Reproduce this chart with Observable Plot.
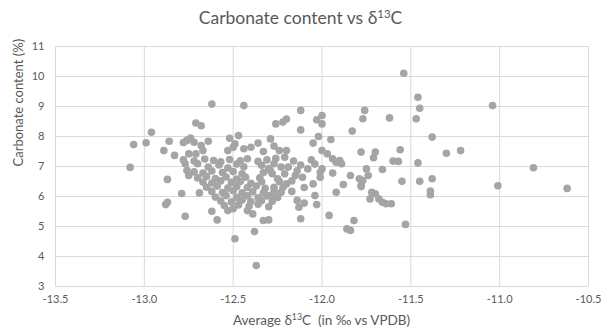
<!DOCTYPE html>
<html>
<head>
<meta charset="utf-8">
<script src="https://cdn.jsdelivr.net/npm/d3@7"></script>
<script src="https://cdn.jsdelivr.net/npm/@observablehq/plot@0.6"></script>
<style>
  body { margin: 0; background: #fff; font-family: "Lato", "Open Sans", sans-serif; color: #595959; }
  #title { width: 601px; height: 36px; line-height: 36px; text-align: center; font-size: 17.5px; }
  #xlabel { width: 601px; box-sizing: border-box; padding-left: 55px; padding-right: 13px; height: 20px; line-height: 20px; text-align: center; font-size: 13.5px; }
  sup { font-size: 0.65em; vertical-align: 0.55em; line-height: 0; }
</style>
</head>
<body>
<div id="title">Carbonate content vs δ<sup>13</sup>C</div>
<div id="chart"></div>
<div id="xlabel">Average δ<sup>13</sup>C&nbsp; (in ‰ vs VPDB)</div>
<script>
const xTicks = [-13.5, -13.0, -12.5, -12.0, -11.5, -11.0, -10.5];
const yTicks = [3, 4, 5, 6, 7, 8, 9, 10, 11];
const yTitle = ["Carbonate content (%)"];

// Average δ13C (‰ vs VPDB)
const d13C = [
  -13.08,-13.06,-12.99,-12.96,-12.86,-12.89,-12.83,-12.87,-12.88,-12.87,-12.79,-12.77,-12.69,-12.71,-12.68,
  -12.78,-12.76,-12.74,-12.72,-12.75,-12.71,-12.77,-12.76,-12.75,-12.70,-12.62,-12.44,-12.64,-12.68,-12.52,
  -12.47,-12.49,-12.29,-12.27,-12.67,-12.53,-12.50,-12.44,-12.40,-12.36,-12.33,-12.62,-12.59,-12.50,-12.33,
  -12.30,-12.38,-12.49,-12.37,
  -12.26,-12.22,-12.20,-12.12,-12.00,-12.03,-12.00,-12.12,-11.83,-11.95,-12.02,-12.05,-11.76,-11.77,-12.24,
  -12.20,-12.21,-12.00,-11.97,-11.94,-11.90,-11.89,-11.78,-12.08,-12.00,
  -11.54,-11.46,-11.45,-11.47,-11.62,-11.38,-11.30,-11.22,-11.70,-11.71,-11.56,-11.60,-11.57,-11.46,-11.75,
  -11.66,-11.55,-11.45,-11.38,-11.39,-11.39,-11.53,-11.74,-11.77,-11.78,-11.72,-11.70,-11.68,-11.66,-11.64,
  -11.61,-11.04,-10.81,-11.01,-10.62,
  -12.12,-11.96,-11.82,-11.86,-11.84,-12.04,-12.03,-12.10,-12.13,-12.14,-11.92,-11.94,-11.88,-11.84,-11.79,
  -11.78,-11.73,-12.01,-12.01,-11.92,-12.11,-12.15,
  -12.27,-12.23,-12.28,-12.25,-12.21,-12.20,-12.27,-12.23,-12.29,-12.19,
  -12.16,-12.12,-12.06,-12.17,-12.10,-12.17,-12.05,-12.14,-12.04,
  -12.78,-12.72,-12.66,-12.61,-12.57,-12.52,-12.46,-12.42,-12.36,-12.31,-12.26,
  -12.64,-12.58,-12.53,-12.48,-12.44,-12.34,-12.30,
  -12.72,-12.67,-12.62,-12.56,-12.50,-12.45,-12.33,-12.29,
  -12.70,-12.65,-12.60,-12.54,-12.48,-12.43,-12.35,
  -12.67,-12.62,-12.57,-12.51,-12.46,-12.40,-12.34,-12.24,
  -12.65,-12.59,-12.53,-12.48,-12.42,-12.37,-12.32,-12.22,
  -12.62,-12.56,-12.50,-12.45,-12.39,-12.33,-12.27,
  -12.60,-12.54,-12.48,-12.42,-12.36,-12.31,-12.25,
  -12.57,-12.51,-12.45,-12.40,-12.34,-12.28,
  -12.55,-12.47,-12.41,-12.36,-12.30,
  -12.53,-12.42,-12.39
];

// Carbonate content (%)
const carbonate = [
  6.97,7.73,7.79,8.14,7.84,7.53,7.37,6.57,5.73,5.81,6.10,5.34,6.12,8.45,8.36,
  7.80,7.87,7.95,7.81,7.42,7.42,7.09,6.87,6.70,7.09,9.08,9.03,7.84,7.70,7.94,
  8.03,7.76,7.92,7.68,7.53,7.53,7.64,7.59,7.64,7.78,7.50,5.51,5.22,5.59,5.20,
  5.22,4.83,4.59,3.70,
  8.42,8.48,8.58,8.87,8.70,8.56,8.42,8.22,8.18,7.90,8.00,7.78,8.87,8.59,7.53,
  7.53,7.31,7.53,7.42,7.26,7.20,7.09,7.48,6.92,6.92,
  10.11,9.31,8.94,8.59,8.62,7.98,7.44,7.53,7.48,7.29,7.56,7.18,7.17,7.12,6.92,
  6.90,6.51,6.51,6.59,6.18,6.06,5.07,6.70,6.53,6.37,6.14,6.09,5.92,5.81,5.76,
  5.76,9.03,6.96,6.36,6.27,
  5.26,5.37,5.20,4.92,4.87,6.03,5.73,5.78,5.64,5.87,6.14,6.78,6.40,6.70,6.59,
  6.33,5.92,6.81,6.64,7.14,6.64,6.70,
  7.09,6.98,6.76,6.59,6.76,6.42,6.31,6.14,6.03,6.98,
  7.18,7.05,7.22,6.52,6.30,6.17,6.42,6.86,7.08,
  7.22,7.18,7.25,7.20,7.16,7.23,7.19,7.26,7.17,7.22,7.27,
  6.98,7.05,6.95,7.08,6.99,7.04,6.93,
  6.82,6.78,6.85,6.80,6.83,6.76,6.80,6.86,
  6.62,6.67,6.60,6.65,6.58,6.64,6.62,
  6.48,6.45,6.52,6.47,6.50,6.44,6.49,6.50,
  6.31,6.35,6.28,6.33,6.30,6.35,6.27,6.30,
  6.17,6.13,6.19,6.12,6.16,6.12,6.18,
  5.98,6.03,5.97,6.02,5.96,6.02,5.97,
  5.85,5.82,5.88,5.83,5.86,5.84,
  5.70,5.72,5.68,5.74,5.66,
  5.53,5.53,5.42
];

const data = d13C.map((x, i) => ({x, y: carbonate[i]}));
const grid = "#d9d9d9";

const chart = Plot.plot({
  width: 601,
  height: 274,
  marginTop: 10,
  marginBottom: 24,
  marginLeft: 55,
  marginRight: 13,
  style: { fontFamily: "Lato, 'Open Sans', sans-serif", color: "#595959", background: "#fff" },
  x: { domain: [-13.5, -10.5] },
  y: { domain: [3, 11] },
  marks: [
    Plot.gridX(xTicks, { stroke: grid, strokeOpacity: 1, strokeWidth: 1 }),
    Plot.gridY(yTicks, { stroke: grid, strokeOpacity: 1, strokeWidth: 1 }),
    Plot.axisX(xTicks, { tickSize: 0, tickPadding: 9, fontSize: 11, fill: "#595959", label: null, tickFormat: d => d.toFixed(1) }),
    Plot.axisY(yTicks, { tickSize: 0, tickPadding: 11, fontSize: 11, fill: "#595959", label: null }),
    Plot.text(yTitle, { text: d => d, frameAnchor: "left", rotate: -90, dx: -37, fontSize: 13, fill: "#595959" }),
    Plot.dot(data, { x: "x", y: "y", r: 3.8, fill: "#a5a5a5", stroke: null })
  ]
});
document.getElementById("chart").appendChild(chart);
</script>
</body>
</html>
